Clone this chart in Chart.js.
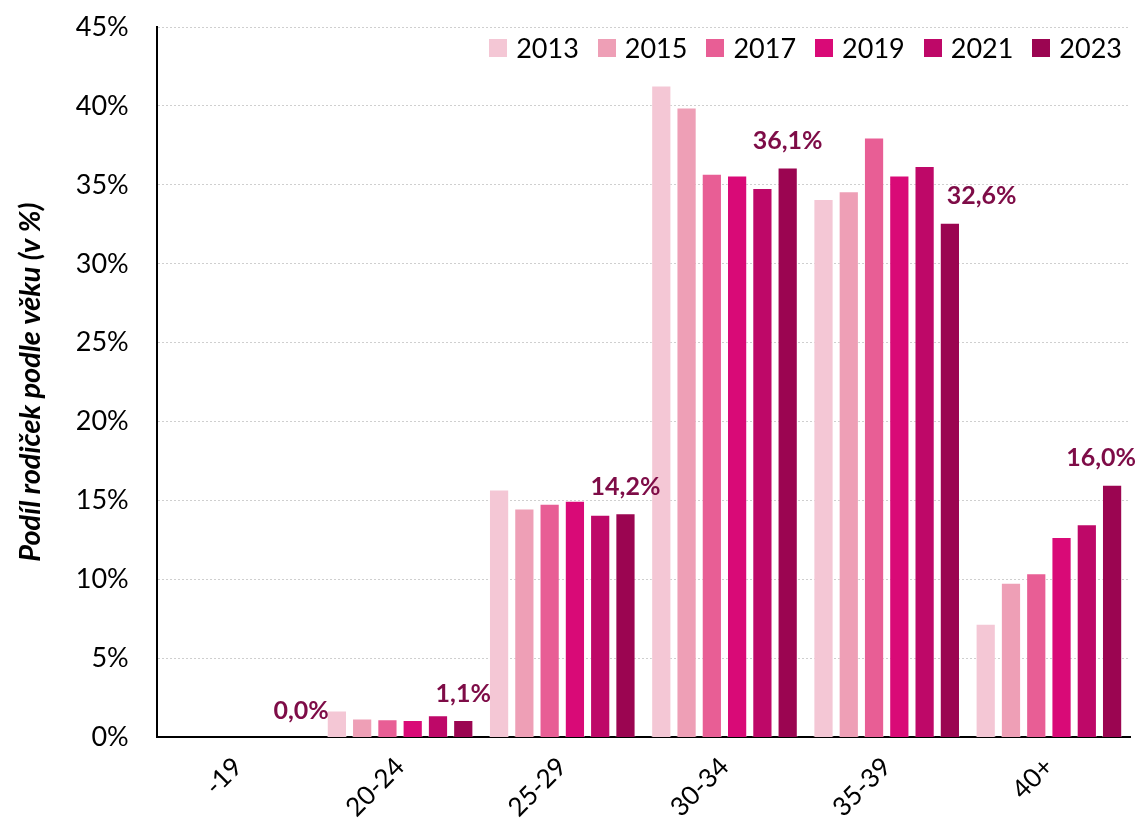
<!DOCTYPE html>
<html lang="cs">
<head>
    <meta charset="UTF-8">
    <title>Podíl rodiček podle věku</title>
    <script src="https://cdn.jsdelivr.net/npm/chart.js"></script>
    <style>
        body {
            margin: 0;
            padding: 0;
            background: #fff;
            font-family: Lato, sans-serif;
        }
        .wrap {
            position: relative;
            width: 1139px;
            height: 829px;
        }
        #legend {
            position: absolute;
            top: 32px;
            right: 17px;
            display: flex;
            gap: 19px;
            font-size: 27px;
            line-height: 32px;
            color: #000;
        }
        #legend .item {
            display: flex;
            align-items: center;
        }
        #legend .box {
            width: 18px;
            height: 18px;
            margin-right: 9px;
        }
    </style>
</head>
<body>

<div class="wrap">
    <canvas id="ageChart"></canvas>
    <div id="legend"></div>
</div>

<script>
    // vekove skupiny
    const categories = ['-19', '20-24', '25-29', '30-34', '35-39', '40+'];
    const years = ['2013', '2015', '2017', '2019', '2021', '2023'];

    // podil v % podle roku
    const v2013 = [0.0, 1.7, 15.7, 41.3, 34.1, 7.2];
    const v2015 = [0.0, 1.2, 14.5, 39.9, 34.6, 9.8];
    const v2017 = [0.0, 1.15, 14.8, 35.7, 38.0, 10.4];
    const v2019 = [0.0, 1.1, 15.0, 35.6, 35.6, 12.7];
    const v2021 = [0.0, 1.4, 14.1, 34.8, 36.2, 13.5];
    const v2023 = [0.0, 1.1, 14.2, 36.1, 32.6, 16.0];

    const yTicks = [0, 5, 10, 15, 20, 25, 30, 35, 40, 45];

    const colors = ['#F4C7D5', '#EE9FB6', '#E85E95', '#D90A77', '#BE0868', '#9B0551'];
    const series = [v2013, v2015, v2017, v2019, v2021, v2023];

    // popisky jen u posledni rady
    const labelPlugin = {
        id: 'lastLabels',
        afterDatasetsDraw(chart) {
            const ctx = chart.ctx;
            const idx = chart.data.datasets.length - 1;
            const meta = chart.getDatasetMeta(idx);
            const prevMeta = chart.getDatasetMeta(idx - 1);
            ctx.save();
            ctx.font = 'bold 25px Lato';
            ctx.fillStyle = '#7E0C47';
            ctx.textAlign = 'center';
            ctx.textBaseline = 'bottom';
            meta.data.forEach((bar, i) => {
                const v = chart.data.datasets[idx].data[i];
                const txt = v.toFixed(1).replace('.', ',') + '%';
                const w = ctx.measureText(txt).width;
                const yBottom = bar.y - 14;
                let x = bar.x;
                // kdyz by popisek prekryl sousedni sloupec, posunout doprava
                const prev = prevMeta.data[i];
                const prevRight = prev.x + prev.width / 2;
                if (prev.y < yBottom && x - w / 2 < prevRight + 12) {
                    x = prevRight + 12 + w / 2;
                }
                // posunout doleva, kdyz by popisek vylezl z platna
                x = Math.min(x, chart.width - 3 - w / 2);
                ctx.fillText(txt, x, yBottom);
            });
            ctx.restore();
        }
    };

    const chart = new Chart(document.getElementById('ageChart'), {
        type: 'bar',
        data: {
            labels: categories,
            datasets: years.map((y, i) => ({
                label: y,
                data: series[i],
                backgroundColor: colors[i],
                borderColor: 'rgba(255,255,255,0.35)',
                borderWidth: 1,
                barPercentage: 0.8,
                categoryPercentage: 0.935
            }))
        },
        options: {
            responsive: true,
            maintainAspectRatio: false,
            animation: false,
            layout: {
                padding: { left: 0, right: 9, top: 27, bottom: 0 }
            },
            plugins: {
                legend: { display: false },
                tooltip: { enabled: false }
            },
            scales: {
                x: {
                    grid: { display: false },
                    border: { display: true, color: '#000', width: 2 },
                    ticks: {
                        color: '#000',
                        font: { family: 'Lato', size: 26 },
                        minRotation: 45,
                        maxRotation: 45,
                        padding: 6
                    }
                },
                y: {
                    min: 0,
                    max: 45,
                    afterBuildTicks(axis) {
                        axis.ticks = yTicks.map(v => ({ value: v }));
                    },
                    afterFit(axis) {
                        // tick padding se jinak pricita i nahoru
                        axis.paddingTop = 0;
                        axis.paddingBottom = 0;
                    },
                    grid: {
                        color: '#cfcfcf',
                        lineWidth: 1,
                        drawTicks: false
                    },
                    border: { display: true, color: '#000', width: 2, dash: [2, 2] },
                    ticks: {
                        color: '#000',
                        font: { family: 'Lato', size: 27 },
                        padding: 28,
                        callback: v => v + '%'
                    },
                    title: {
                        display: true,
                        text: 'Podíl rodiček podle věku (v %)',
                        color: '#000',
                        font: { family: 'Lato', size: 29, weight: 'bold', style: 'italic' },
                        padding: { top: 13, bottom: 0 }
                    }
                }
            }
        },
        plugins: [labelPlugin]
    });

    // legenda vpravo nahore
    const legendEl = document.getElementById('legend');
    chart.data.datasets.forEach(ds => {
        const item = document.createElement('div');
        item.className = 'item';
        item.innerHTML = '<span class="box" style="background:' + ds.backgroundColor + '"></span><span>' + ds.label + '</span>';
        legendEl.appendChild(item);
    });
</script>

</body>
</html>
